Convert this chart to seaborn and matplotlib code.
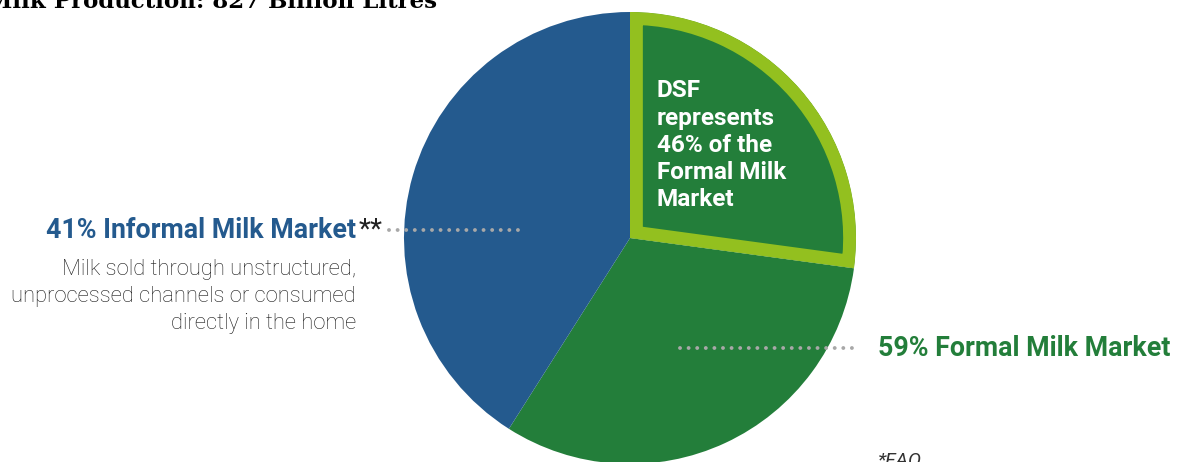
import seaborn as sns
import matplotlib.pyplot as plt
from matplotlib.lines import Line2D
from matplotlib.patches import Wedge

# Market split of milk production (%)
markets = ["Informal Milk Market", "Formal Milk Market"]
market_share = [41, 59]
dsf_share_of_formal = 46  # % of the formal market

title = "Milk Production: 827 Billion Litres"
informal_note = ["Milk sold through unstructured,",
                 "unprocessed channels or consumed",
                 "directly in the home"]
dsf_note = "DSF\nrepresents\n46% of the\nFormal Milk\nMarket"

BLUE = "#245A8E"
GREEN = "#237E3A"
LIME = "#93C01F"
DOT = "#A8A8A8"

sns.set_theme(style="white")
plt.rcParams['font.family'] = ['Roboto', 'DejaVu Sans']

W, H = 1183, 462
fig = plt.figure(figsize=(W / 100, H / 100), dpi=100)

def px(x, y):
    # pixel position -> figure fraction
    return x / W, 1 - y / H

# pie placed with centre at (630, 238) px, radius 226 px
cx, cy, r = 630, 238, 226
ax = fig.add_axes([(cx - r) / W, (H - cy - r) / H, 2 * r / W, 2 * r / H])

dsf = market_share[1] * dsf_share_of_formal / 100
other_formal = market_share[1] - dsf
sizes = [dsf, other_formal, market_share[0]]
wedges, _ = ax.pie(sizes, colors=[GREEN, GREEN, BLUE], startangle=90,
                   counterclock=False, radius=1,
                   wedgeprops=dict(linewidth=0))
# lime border drawn inside the DSF slice (stroke clipped to the slice)
w = wedges[0]
clip = Wedge(w.center, w.r, w.theta1, w.theta2, transform=ax.transData)
w.set_edgecolor(LIME)
w.set_linewidth(18.5)
w.set_clip_on(True)
w.set_clip_path(clip)
w.set_zorder(3)
ax.set_xlim(-1, 1)
ax.set_ylim(-1, 1)
ax.set_aspect('equal')
ax.axis('off')

# title (clipped at the top-left edge like the original)
fig.text(*px(-13, 8), title, fontsize=16.5, fontweight='bold',
         family=['DejaVu Serif'], color='black', ha='left', va='baseline')

# informal label
fig.text(*px(356, 238), f"{market_share[0]}% {markets[0]}", fontsize=19.3,
         fontweight='bold', color=BLUE, ha='right', va='baseline')
fig.text(*px(359, 237), "**", fontsize=20, color='#222222',
         ha='left', va='baseline')
for i, line in enumerate(informal_note):
    fig.text(*px(356, 275 + 27 * i), line, fontsize=15.8, fontweight='light',
             color='#1a1a1a', ha='right', va='baseline')

# formal label
fig.text(*px(878, 356), f"{market_share[1]}% {markets[1]}", fontsize=19.3,
         fontweight='bold', color=GREEN, ha='left', va='baseline')

# DSF note inside the slice
fig.text(*px(657, 206), dsf_note, fontsize=17.5, fontweight='bold',
         color='white', ha='left', va='baseline', linespacing=1.23, zorder=5)

# dotted leaders
for (x0, x1, y) in [(389, 522, 230), (680, 860, 348)]:
    xa, ya = px(x0, y)
    xb, _ = px(x1, y)
    fig.add_artist(Line2D([xa, xb], [ya, ya], transform=fig.transFigure,
                          color=DOT, linewidth=2.8, linestyle=(0, (0.01, 2.2)),
                          dash_capstyle='round', zorder=6))

# footnote
fig.text(*px(878, 466), "*FAO", fontsize=14, fontstyle='italic',
         color='#333333', ha='left', va='baseline')

fig.savefig("out.png", dpi=100)
